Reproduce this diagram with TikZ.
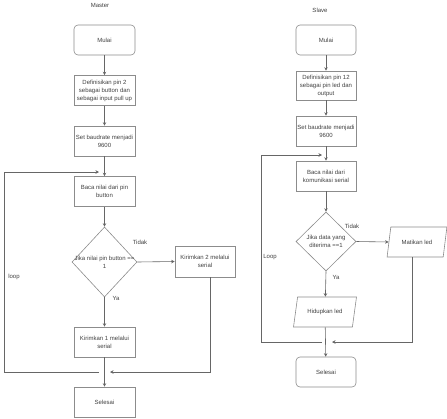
\documentclass[tikz,border=0pt]{standalone}
\usepackage{fontspec}
\setmainfont{Liberation Sans}
\usetikzlibrary{shapes.geometric,arrows.meta}
\begin{document}
\begin{tikzpicture}[x=1pt,y=-1pt,
  every node/.style={font=\fontsize{6}{8}\selectfont, text=black!75, align=center, inner sep=1pt},
  box/.style={draw=black!45, line width=0.6pt, minimum width=61pt, minimum height=30pt},
  rbox/.style={box, rounded corners=4pt},
  dec/.style={draw=black!45, line width=0.6pt, diamond, aspect=0.93, minimum width=65pt, minimum height=70pt, inner sep=0pt},
  para/.style={draw=black!45, line width=0.6pt, trapezium, trapezium left angle=70, trapezium right angle=110, trapezium stretches=true, minimum width=63pt, minimum height=30pt},
  flow/.style={draw=black!60, line width=0.6pt, -{Stealth[length=3.5pt,width=3.5pt]}},
  line/.style={draw=black!60, line width=0.6pt},
  lbl/.style={inner sep=0pt}]
\useasboundingbox (0,0) rectangle (447,418);
% ---------- Master ----------
\node[lbl] (mt) at (100,5) {Master};
\node[rbox] (m1) at (104.5,40) {Mulai};
\node[box] (m2) at (104.5,90.5) {Definisikan pin 2\\sebagai button dan\\sebagai input pull up};
\node[box] (m3) at (104.5,141) {Set baudrate menjadi\\9600};
\node[box] (m4) at (104.5,191.5) {Baca nilai dari pin\\button};
\node[dec] (m5) at (104.5,262) {};
\node[lbl] (m5t) at (104.5,262) {Jika nilai pin button ==\\1};
\node[box, minimum width=60pt, minimum height=31pt] (m6) at (205,261.5) {Kirimkan 2 melalui\\serial};
\node[box] (m7) at (104.5,342) {Kirimkan 1 melalui\\serial};
\node[box] (m8) at (104.5,402) {Selesai};
\node[lbl] (mtidak) at (140,242) {Tidak};
\node[lbl] (mya) at (116,298) {Ya};
\node[lbl] (mloop) at (14,277) {loop};
\coordinate (ml1) at (99,372);
\coordinate (ml2) at (4,372);
\coordinate (ml3) at (4,172);
\coordinate (ml4) at (99,172);
\coordinate (mr1) at (210,277);
\coordinate (mr2) at (210,372);
\coordinate (mr3) at (110,372);
\draw[flow] (m1) -- (m2);
\draw[flow] (m2) -- (m3);
\draw[flow] (m3) -- (m4);
\draw[flow] (m4) -- (m5);
\draw[flow] (m5.east) -- (m6.west);
\draw[flow] (m5.south) -- (m7);
\draw[flow] (m7) -- (m8);
\draw[flow] (ml1) -- (ml2) -- (ml3) -- (ml4);
\draw[flow] (mr1) -- (mr2) -- (mr3);
% ---------- Slave ----------
\node[lbl] (st) at (320,10) {Slave};
\node[rbox, minimum width=60pt] (s1) at (326,40) {Mulai};
\node[box, minimum width=60pt, minimum height=29pt] (s2) at (326,85.5) {Definisikan pin 12\\sebagai pin led dan\\output};
\node[box, minimum width=60pt] (s3) at (326,131) {Set baudrate menjadi\\9600};
\node[box, minimum width=60pt] (s4) at (326,176) {Baca nilai dari\\komunikasi serial};
\node[dec, minimum width=60pt, minimum height=59pt, aspect=1] (s5) at (326,241.5) {};
\node[lbl] (s5t) at (326,241.5) {Jika data yang\\diterima ==1};
\node[para, minimum width=60pt] (s6) at (417,242) {Matikan led};
\node[para] (s7) at (325,312) {Hidupkan led};
\node[rbox, minimum width=60pt] (s8) at (326,372) {Selesai};
\node[lbl] (stidak) at (352,226) {Tidak};
\node[lbl] (sya) at (336,277) {Ya};
\node[lbl] (sloop) at (270,257) {Loop};
\coordinate (sl1) at (322,342);
\coordinate (sl2) at (261,342);
\coordinate (sl3) at (261,155);
\coordinate (sl4) at (322,155);
\coordinate (sr1) at (412,257);
\coordinate (sr2) at (412,342);
\coordinate (sr3) at (332,342);
\draw[flow] (s1) -- (s2);
\draw[flow] (s2) -- (s3);
\draw[flow] (s3) -- (s4);
\draw[flow] (s4) -- (s5);
\draw[flow] (s5.east) -- (s6.west);
\draw[flow] (s5.south) -- (s7);
\draw[flow] (s7) -- (s8);
\draw[flow] (sl1) -- (sl2) -- (sl3) -- (sl4);
\draw[flow] (sr1) -- (sr2) -- (sr3);
\end{tikzpicture}
\end{document}
